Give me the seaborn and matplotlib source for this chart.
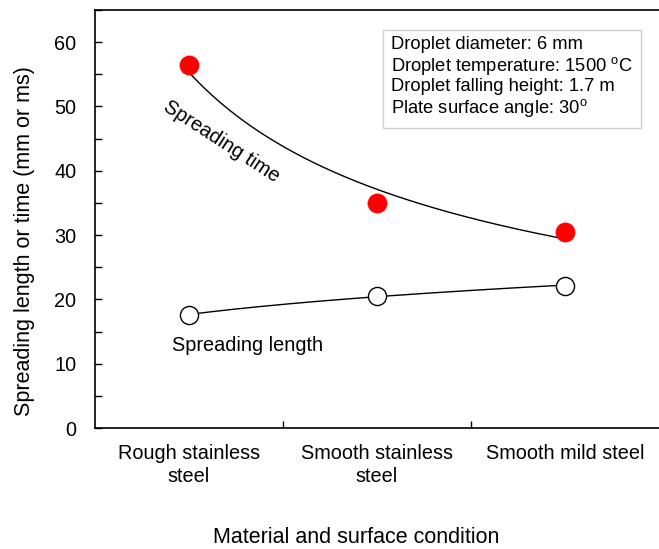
import numpy as np
import pandas as pd
import matplotlib
matplotlib.use("Agg")
import matplotlib.pyplot as plt
import seaborn as sns
from matplotlib.ticker import MultipleLocator, FixedLocator

# ---- data ----
categories = ["Rough stainless\nsteel", "Smooth stainless\nsteel", "Smooth mild steel"]
spreading_time = [56.5, 35.0, 30.5]
spreading_length = [17.6, 20.6, 22.1]
info_lines = ["Droplet diameter: 6 mm",
              "Droplet temperature: 1500 $^{\\mathrm{o}}$C",
              "Droplet falling height: 1.7 m",
              "Plate surface angle: 30$^{\\mathrm{o}}$"]

sns.set_theme(style="white")
plt.rcParams['font.family'] = ['Liberation Sans', 'DejaVu Sans']
plt.rcParams['mathtext.fontset'] = 'custom'
plt.rcParams['mathtext.rm'] = 'Liberation Sans'
plt.rcParams['text.color'] = 'black'
plt.rcParams['axes.labelcolor'] = 'black'
plt.rcParams['xtick.color'] = 'black'
plt.rcParams['ytick.color'] = 'black'

FS = 14.3

fig = plt.figure(figsize=(6.59, 5.49), dpi=100)
ax = fig.add_axes([0.1442, 0.2204, 0.8558, 0.7614])

idx = np.arange(len(categories))
df = pd.DataFrame({"x": idx, "time": spreading_time, "length": spreading_length})

# power-law trendlines (Excel style, x = 1..n)
def power_fit(y):
    xe = idx + 1.0
    b, lna = np.polyfit(np.log(xe), np.log(y), 1)
    xs = np.linspace(1, len(y), 200)
    return xs - 1, np.exp(lna) * xs ** b

xt, yt = power_fit(spreading_time)
xl, yl = power_fit(spreading_length)
sns.lineplot(x=xt, y=yt, ax=ax, color="black", lw=1.0, zorder=2)
sns.lineplot(x=xl, y=yl, ax=ax, color="black", lw=1.0, zorder=2)

sns.scatterplot(data=df, x="x", y="time", ax=ax, s=190, color="#ff0000",
                edgecolor="#ff0000", linewidth=0.5, zorder=3)
sns.scatterplot(data=df, x="x", y="length", ax=ax, s=170, facecolor="white",
                edgecolor="black", linewidth=1.0, zorder=3)

ax.set_xlim(-0.5, 2.5)
ax.set_ylim(0, 65)
ax.set_xticks(idx)
ax.set_xticklabels(categories, fontsize=FS, linespacing=1.25)
ax.xaxis.set_minor_locator(FixedLocator([0.5, 1.5]))
ax.yaxis.set_major_locator(MultipleLocator(10))
ax.yaxis.set_minor_locator(MultipleLocator(5))
ax.tick_params(axis='x', which='major', length=0, pad=11.5)
ax.tick_params(axis='x', which='minor', direction='in', length=5, width=1, color='black', bottom=True)
ax.tick_params(axis='y', which='both', direction='in', length=5, width=1, color='black',
               labelsize=FS, pad=13.5, left=True)

ax.set_xlabel("Material and surface condition", fontsize=15.5)
ax.xaxis.set_label_coords(0.463, -0.238)
ax.set_ylabel("Spreading length or time (mm or ms)", fontsize=15.5)
ax.yaxis.set_label_coords(-0.106, 0.447)

for s in ["left", "bottom", "top"]:
    ax.spines[s].set_color("black")
    ax.spines[s].set_linewidth(1.2)
ax.spines["right"].set_visible(False)

ax.text(0.175, 44.5, "Spreading time", rotation=-33, fontsize=FS,
        ha="center", va="center", rotation_mode="anchor")
ax.text(0.314, 12.9, "Spreading length", fontsize=FS, ha="center", va="center")

ax.text(0.525, 0.938, "\n".join(info_lines), transform=ax.transAxes, fontsize=13.2,
        ha="left", va="top", linespacing=1.12,
        bbox=dict(boxstyle="square,pad=0.45", facecolor="white", edgecolor="#d0d0d0", lw=1.0))

fig.savefig("out.png", dpi=100)
